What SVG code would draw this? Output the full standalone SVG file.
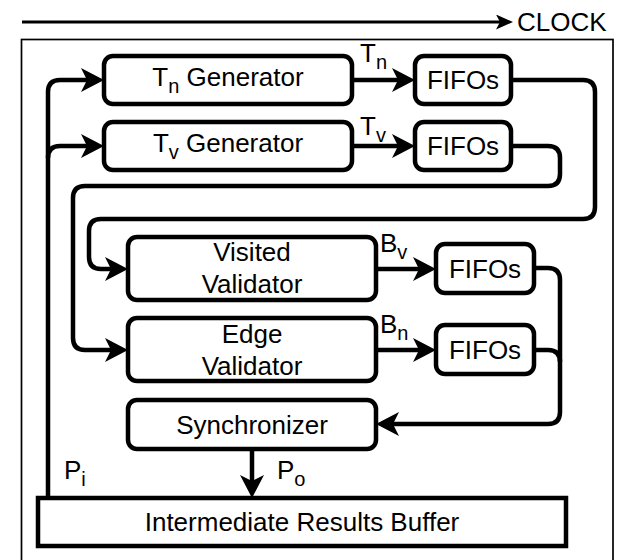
<svg xmlns="http://www.w3.org/2000/svg" width="623" height="560" viewBox="0 0 623 560">
  <defs>
    <style>
      .box { fill: #fff; stroke: #000; stroke-width: 4.5; }
      .wire { fill: none; stroke: #000; stroke-width: 4.5; }
      .lbl { font-family: "Liberation Sans", Arial, sans-serif; font-size: 26px; fill: #000; }
      .sub { font-size: 20px; }
      .mid { text-anchor: middle; }
    </style>
    <marker id="arr" viewBox="0 0 23 24" refX="11" refY="12" markerWidth="23" markerHeight="24" markerUnits="userSpaceOnUse" orient="auto">
      <path d="M0,0 L23,12 L0,24 L6,12 Z" fill="#000"/>
    </marker>
    <marker id="arr-small" viewBox="0 0 17 15" refX="9" refY="7.5" markerWidth="17" markerHeight="15" markerUnits="userSpaceOnUse" orient="auto">
      <path d="M0,0 L17,7.5 L0,15 L4,7.5 Z" fill="#000"/>
    </marker>
  </defs>

  <!-- clock line -->
  <g id="clock">
    <line x1="22" y1="22" x2="505" y2="22" stroke="#000" stroke-width="2.8" marker-end="url(#arr-small)"/>
    <text class="lbl" x="517" y="31">CLOCK</text>
  </g>

  <!-- enclosing frame, open past the lower edge -->
  <rect id="frame" x="21.5" y="39.5" width="591.5" height="530" fill="none" stroke="#000" stroke-width="1.7"/>

  <g id="connectors">
    <path class="wire" d="M352,80 H403" marker-end="url(#arr)"/>
    <path class="wire" d="M511,80 H583 Q595,80 595,92 V207 Q595,219 583,219 H101 Q89,219 89,231 V257 Q89,269 101,269 H116" marker-end="url(#arr)"/>
    <path class="wire" d="M352,146 H403" marker-end="url(#arr)"/>
    <path class="wire" d="M511,146 H548 Q560,146 560,158 V174 Q560,186 548,186 H85 Q73,186 73,198 V338 Q73,350 85,350 H116" marker-end="url(#arr)"/>
    <path class="wire" d="M376,269 H424" marker-end="url(#arr)"/>
    <path class="wire" d="M376,350 H424" marker-end="url(#arr)"/>
    <path class="wire" d="M534,268 H548 Q560,268 560,280 V412 Q560,424 548,424 H388" marker-end="url(#arr)"/>
    <path class="wire" d="M534,350 H548 Q560,350 560,362"/>
    <path class="wire" d="M252,449 V486" marker-end="url(#arr)"/>
    <path class="wire" d="M48,498 V92 Q48,80 60,80 H92" marker-end="url(#arr)"/>
    <path class="wire" d="M48,158 Q48,146 60,146 H92" marker-end="url(#arr)"/>

    <text class="lbl" x="360" y="62">T<tspan class="sub" dy="7">n</tspan></text>
    <text class="lbl" x="360" y="135">T<tspan class="sub" dy="7">v</tspan></text>
    <text class="lbl" x="380" y="252">B<tspan class="sub" dy="7">v</tspan></text>
    <text class="lbl" x="380" y="333">B<tspan class="sub" dy="7">n</tspan></text>
    <text class="lbl" x="64" y="479">P<tspan class="sub" dy="7">i</tspan></text>
    <text class="lbl" x="277" y="479">P<tspan class="sub" dy="7">o</tspan></text>
  </g>

  <g id="tn-generator">
    <rect class="box" x="104" y="56" width="248" height="48" rx="9"/>
    <text class="lbl mid" x="228" y="86">T<tspan class="sub" dy="7">n</tspan><tspan dy="-7"> Generator</tspan></text>
  </g>
  <g id="tv-generator">
    <rect class="box" x="104" y="122" width="248" height="48" rx="9"/>
    <text class="lbl mid" x="228" y="152">T<tspan class="sub" dy="7">v</tspan><tspan dy="-7"> Generator</tspan></text>
  </g>
  <g id="fifo-tn">
    <rect class="box" x="415" y="56" width="96" height="48" rx="9"/>
    <text class="lbl mid" x="463" y="89">FIFOs</text>
  </g>
  <g id="fifo-tv">
    <rect class="box" x="415" y="122" width="96" height="48" rx="9"/>
    <text class="lbl mid" x="463" y="155">FIFOs</text>
  </g>
  <g id="visited-validator">
    <rect class="box" x="128" y="237" width="248" height="63" rx="9"/>
    <text class="lbl mid" x="252" y="261">Visited</text>
    <text class="lbl mid" x="252" y="293">Validator</text>
  </g>
  <g id="fifo-bv">
    <rect class="box" x="436" y="244" width="98" height="49" rx="9"/>
    <text class="lbl mid" x="485" y="278">FIFOs</text>
  </g>
  <g id="edge-validator">
    <rect class="box" x="128" y="318" width="248" height="63" rx="9"/>
    <text class="lbl mid" x="252" y="343">Edge</text>
    <text class="lbl mid" x="252" y="375">Validator</text>
  </g>
  <g id="fifo-bn">
    <rect class="box" x="436" y="325" width="98" height="49" rx="9"/>
    <text class="lbl mid" x="485" y="359">FIFOs</text>
  </g>
  <g id="synchronizer">
    <rect class="box" x="128" y="400" width="248" height="49" rx="9"/>
    <text class="lbl mid" x="252" y="434">Synchronizer</text>
  </g>
  <g id="results-buffer">
    <rect class="box" x="38" y="498" width="528" height="48"/>
    <text class="lbl mid" x="302" y="531">Intermediate Results Buffer</text>
  </g>
</svg>
